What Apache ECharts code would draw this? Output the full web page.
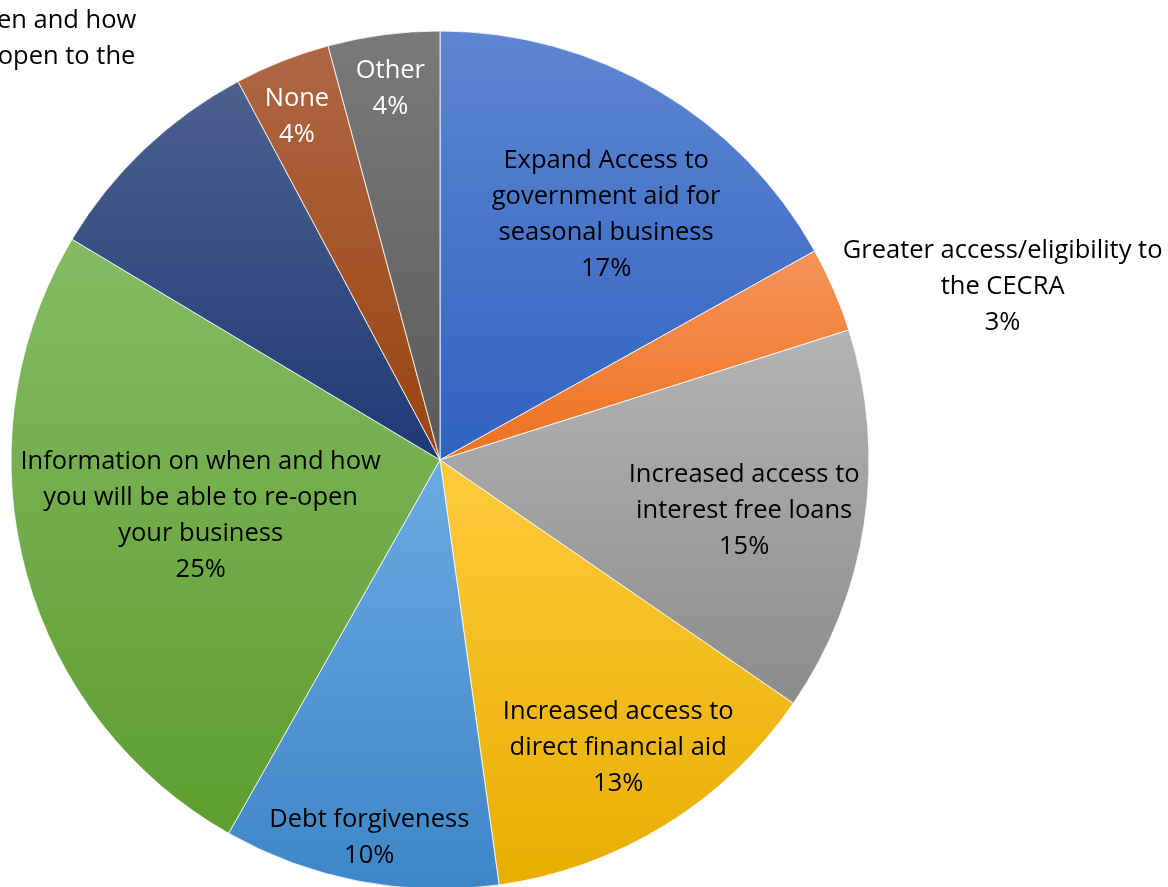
<!DOCTYPE html>
<html><head><meta charset="utf-8">
<script src="https://cdn.jsdelivr.net/npm/echarts@6/dist/echarts.min.js"></script>
<style>html,body{margin:0;padding:0;background:#fff}#c{width:1168px;height:887px}</style>
</head><body><div id="c"></div>
<script>
const categories = [
  "Expand Access to\ngovernment aid for\nseasonal business",
  "Greater access/eligibility to\nthe CECRA",
  "Increased access to\ninterest free loans",
  "Increased access to\ndirect financial aid",
  "Debt forgiveness",
  "Information on when and how\nyou will be able to re-open\nyour business",
  "Information on when and how\nyou will be able to open to the\npublic",
  "None",
  "Other"
];
const values = [16.9, 3.2, 14.5, 13.2, 10.4, 25.4, 8.6, 3.6, 4.2];

const colorsTop = ['#5E86D2','#F5945A','#B4B4B4','#FFCB3C','#6AAAE2','#84BA62','#4D6190','#AF6644','#7A7A7A'];
const colorsBot = ['#2F62C0','#EE7120','#8C8C8C','#E8AE00','#3E86C8','#5E9E30','#1E3A74','#9A440E','#5A5A5A'];
const labelColors = ['#000','#000','#000','#000','#000','#000','#000','#fff','#fff'];
const labelOffsets = [[56,-58],[363,-87],[89,19],[64,103],[-30,164],[-29,0],[-334,-228],[-63,-141],[-21,-156]];

const chart = echarts.init(document.getElementById('c'));
const data = categories.map((n,i)=>({
  name: n, value: values[i],
  itemStyle: { color: new echarts.graphic.LinearGradient(0,0,0,1,[{offset:0,color:colorsTop[i]},{offset:1,color:colorsBot[i]}]) },
  label: { color: labelColors[i], offset: labelOffsets[i] }
}));
chart.setOption({
  animation: false,
  series: [{
    type: 'pie',
    center: [440, 460],
    radius: 429,
    startAngle: 90,
    clockwise: true,
    avoidLabelOverlap: false,
    itemStyle: { borderColor: 'rgba(255,255,255,0.8)', borderWidth: 1 },
    label: {
      show: true, position: 'inside',
      fontFamily: '"Open Sans", Lato, sans-serif', fontSize: 25.5, lineHeight: 36,
      align: 'center',
      formatter: p => p.name + '\n' + Math.round(p.percent) + '%'
    },
    labelLine: { show: false },
    emphasis: { disabled: true },
    data: data
  }]
});
</script></body></html>
